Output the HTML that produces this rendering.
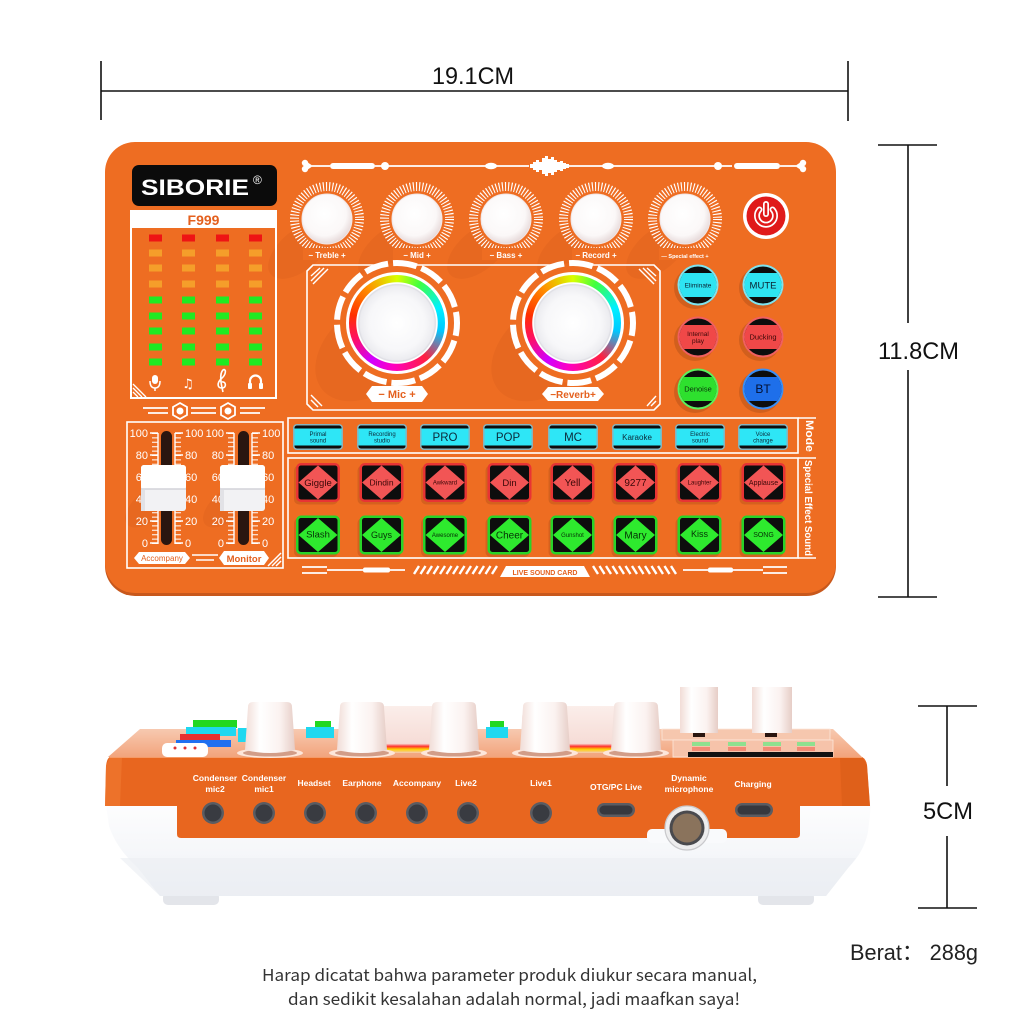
<!DOCTYPE html>
<html><head><meta charset="utf-8">
<style>
html,body{margin:0;padding:0;background:#fff;}
#c{position:relative;width:1024px;height:1024px;overflow:hidden;background:#fff;}
#c svg{position:absolute;left:0;top:0;}
.rb{position:absolute;border-radius:50%;box-sizing:border-box;border:3px solid #fff;
background:radial-gradient(circle at 50% 50%, #ffffff 0px, #f7f7f9 28px, #ececf0 37px, #dcdce2 38.5px, #ffffff 39.5px, #ffffff 40.5px, rgba(255,255,255,0) 41px),
conic-gradient(from 0deg, #d8ff00, #40ff40 30deg, #00f0ff 70deg, #00c8ff 100deg, #ff2040 140deg, #ff00c0 185deg, #d000ff 215deg, #ff1060 250deg, #ff3000 280deg, #ff9000 320deg, #d8ff00);}
</style></head><body><div id="c">
<svg width="1024" height="1024" viewBox="0 0 1024 1024" font-family="'Liberation Sans', Arial, sans-serif">
<defs>
<radialGradient id="kg" cx="45%" cy="40%" r="62%"><stop offset="0" stop-color="#ffffff"/><stop offset="0.7" stop-color="#fbf8f8"/><stop offset="1" stop-color="#e4d6d6"/></radialGradient>
<linearGradient id="top" x1="0" y1="0" x2="0" y2="1"><stop offset="0" stop-color="#F7C9B0"/><stop offset="1" stop-color="#F2A47C"/></linearGradient>
<linearGradient id="base" x1="0" y1="0" x2="0" y2="1"><stop offset="0" stop-color="#fdfdfe"/><stop offset="0.6" stop-color="#f4f6f9"/><stop offset="1" stop-color="#e8ebf0"/></linearGradient>
<linearGradient id="cyl" x1="0" y1="0" x2="1" y2="0"><stop offset="0" stop-color="#f1dcd6"/><stop offset="0.3" stop-color="#ffffff"/><stop offset="0.7" stop-color="#fbf2f0"/><stop offset="1" stop-color="#e6cdc6"/></linearGradient>
<linearGradient id="drum" x1="0" y1="0" x2="0" y2="1"><stop offset="0" stop-color="#fbeeea"/><stop offset="0.8" stop-color="#f6dcd6"/><stop offset="0.86" stop-color="#ff3030"/><stop offset="0.92" stop-color="#ffd000"/><stop offset="1" stop-color="#f3c8b8"/></linearGradient>
</defs>

<!-- ===== dimension lines ===== -->
<g stroke="#111" stroke-width="1.6">
<line x1="101" y1="91" x2="848" y2="91"/>
<line x1="101" y1="61" x2="101" y2="120"/>
<line x1="848" y1="61" x2="848" y2="121"/>
<line x1="878" y1="145" x2="937" y2="145"/>
<line x1="878" y1="597" x2="937" y2="597"/>
<line x1="908" y1="145" x2="908" y2="323"/>
<line x1="908" y1="370" x2="908" y2="597"/>
<line x1="918" y1="706" x2="977" y2="706"/>
<line x1="918" y1="908" x2="977" y2="908"/>
<line x1="947" y1="706" x2="947" y2="786"/>
<line x1="947" y1="836" x2="947" y2="908"/>
</g>
<g fill="#111" font-size="24">
<text x="432" y="84" textLength="82" lengthAdjust="spacingAndGlyphs">19.1CM</text>
<text x="878" y="359" textLength="81" lengthAdjust="spacingAndGlyphs">11.8CM</text>
<text x="923" y="819" textLength="50" lengthAdjust="spacingAndGlyphs">5CM</text>
</g>

<!-- ===== TOP VIEW BOARD ===== -->
<rect x="105" y="146" width="731" height="450" rx="30" fill="#C8581C"/>
<rect x="105" y="142" width="731" height="451" rx="30" fill="#EE6D22"/>

<!-- shadows -->
<g fill="#7a2a00" opacity="0.06">
<ellipse cx="300" cy="250" rx="38" ry="20" transform="rotate(-40 300 250)"/>
<ellipse cx="390" cy="250" rx="38" ry="20" transform="rotate(-40 390 250)"/>
<ellipse cx="479" cy="250" rx="38" ry="20" transform="rotate(-40 479 250)"/>
<ellipse cx="569" cy="250" rx="38" ry="20" transform="rotate(-40 569 250)"/>
<ellipse cx="658" cy="250" rx="38" ry="20" transform="rotate(-40 658 250)"/>
<ellipse cx="370" cy="350" rx="62" ry="42" transform="rotate(-40 370 350)"/>
<ellipse cx="546" cy="350" rx="62" ry="42" transform="rotate(-40 546 350)"/>
<ellipse cx="150" cy="505" rx="30" ry="15" transform="rotate(-40 150 505)"/>
<ellipse cx="228" cy="505" rx="30" ry="15" transform="rotate(-40 228 505)"/>
</g>

<!-- logo -->
<rect x="132" y="165" width="145" height="41" rx="7" fill="#0b0b0b"/>
<text x="141" y="195" font-size="22" font-weight="bold" fill="#fff" textLength="108" lengthAdjust="spacingAndGlyphs">SIBORIE</text>
<text x="253" y="184" font-size="12" fill="#fff">®</text>

<!-- F999 panel -->
<rect x="131" y="211" width="145" height="187" fill="none" stroke="#fff" stroke-width="2"/>
<rect x="131" y="211" width="145" height="17" fill="#fff"/>
<text x="203.5" y="225" font-size="14" font-weight="bold" fill="#E4601E" text-anchor="middle">F999</text>
<g>
<g fill="#EE1414"><rect x="149" y="234.5" width="13" height="7"/><rect x="182" y="234.5" width="13" height="7"/><rect x="216" y="234.5" width="13" height="7"/><rect x="249" y="234.5" width="13" height="7"/></g>
<g fill="#F59E2A">
<rect x="149" y="249.5" width="13" height="7"/><rect x="182" y="249.5" width="13" height="7"/><rect x="216" y="249.5" width="13" height="7"/><rect x="249" y="249.5" width="13" height="7"/>
<rect x="149" y="264.5" width="13" height="7"/><rect x="182" y="264.5" width="13" height="7"/><rect x="216" y="264.5" width="13" height="7"/><rect x="249" y="264.5" width="13" height="7"/>
<rect x="149" y="280.5" width="13" height="7"/><rect x="182" y="280.5" width="13" height="7"/><rect x="216" y="280.5" width="13" height="7"/><rect x="249" y="280.5" width="13" height="7"/>
</g>
<g fill="#1FEA22">
<rect x="149" y="296.5" width="13" height="7"/><rect x="182" y="296.5" width="13" height="7"/><rect x="216" y="296.5" width="13" height="7"/><rect x="249" y="296.5" width="13" height="7"/>
<rect x="149" y="312.5" width="13" height="7"/><rect x="182" y="312.5" width="13" height="7"/><rect x="216" y="312.5" width="13" height="7"/><rect x="249" y="312.5" width="13" height="7"/>
<rect x="149" y="327.5" width="13" height="7"/><rect x="182" y="327.5" width="13" height="7"/><rect x="216" y="327.5" width="13" height="7"/><rect x="249" y="327.5" width="13" height="7"/>
<rect x="149" y="343.5" width="13" height="7"/><rect x="182" y="343.5" width="13" height="7"/><rect x="216" y="343.5" width="13" height="7"/><rect x="249" y="343.5" width="13" height="7"/>
<rect x="149" y="358.5" width="13" height="7"/><rect x="182" y="358.5" width="13" height="7"/><rect x="216" y="358.5" width="13" height="7"/><rect x="249" y="358.5" width="13" height="7"/>
</g>
</g>
<!-- icons -->
<g fill="#fff" stroke="#fff">
<rect x="152" y="375" width="6" height="9" rx="3" stroke="none"/>
<path d="M150,381 Q150,388 155,388 Q160,388 160,381" fill="none" stroke-width="1.5"/>
<line x1="155" y1="388" x2="155" y2="391" stroke-width="1.5"/>
<text x="188" y="388" font-size="13" text-anchor="middle" stroke="none" font-family="'DejaVu Sans', sans-serif">♫</text>
<path d="M223,392 C221,384 219,374 223,370 C226,368 227,374 221,379 C217,383 217,388 222,388 C227,388 226,381 222,382" fill="none" stroke-width="1.6"/>
<path d="M250,387 L250,381 A5.5,5.5 0 0 1 261,381 L261,387" fill="none" stroke-width="2.2"/>
<rect x="248" y="383" width="4" height="6" rx="1" stroke="none"/><rect x="259" y="383" width="4" height="6" rx="1" stroke="none"/>
</g>
<g stroke="#fff" stroke-width="1.3"><line x1="133" y1="392" x2="138" y2="397"/><line x1="133" y1="388" x2="142" y2="397"/><line x1="133" y1="384" x2="146" y2="397"/></g>
<!-- hex deco -->
<g stroke="#fff" stroke-width="1.8" fill="none">
<line x1="143" y1="408" x2="168" y2="408"/><line x1="148" y1="413" x2="168" y2="413"/>
<polygon points="180,403 187,407 187,415 180,419 173,415 173,407"/>
<line x1="191" y1="408" x2="216" y2="408"/><line x1="191" y1="413" x2="216" y2="413"/>
<polygon points="228,403 235,407 235,415 228,419 221,415 221,407"/>
<line x1="240" y1="408" x2="265" y2="408"/><line x1="240" y1="413" x2="260" y2="413"/>
</g>
<circle cx="180" cy="411" r="3.5" fill="#fff"/><circle cx="228" cy="411" r="3.5" fill="#fff"/>

<!-- top deco line -->
<g fill="#fff">
<path d="M312,166 L330,166 M375,166 L487,166 M496,166 L529,166 M569,166 L603,166 M613,166 L732,166 M780,166 L796,166" stroke="#fff" stroke-width="1.8"/>
<circle cx="305" cy="163" r="3.2"/><circle cx="305" cy="169" r="3.2"/><polygon points="304,160 313,166 304,172"/>
<circle cx="803" cy="163" r="3.2"/><circle cx="803" cy="169" r="3.2"/><polygon points="804,160 795,166 804,172"/>
<rect x="330" y="163" width="45" height="6" rx="3"/><rect x="734" y="163" width="46" height="6" rx="3"/>
<circle cx="385" cy="166" r="4"/><circle cx="718" cy="166" r="4"/>
<ellipse cx="491" cy="166" rx="6" ry="3.2"/><ellipse cx="608" cy="166" rx="6" ry="3.2"/>
<rect x="530" y="164" width="3" height="4"/><rect x="533" y="162" width="3" height="8"/><rect x="536" y="160" width="3" height="12"/><rect x="539" y="162" width="3" height="8"/><rect x="542" y="158" width="3" height="16"/><rect x="545" y="156" width="3" height="20"/><rect x="548" y="159" width="3" height="14"/><rect x="551" y="157" width="3" height="18"/><rect x="554" y="160" width="3" height="12"/><rect x="557" y="162" width="3" height="8"/><rect x="560" y="161" width="3" height="10"/><rect x="563" y="163" width="3" height="6"/><rect x="566" y="164" width="3" height="4"/>
</g>

<!-- small knobs -->
<g>
<g transform="translate(327,219)"><circle r="32.5" fill="none" stroke="#fff" stroke-width="9" stroke-dasharray="1.1 2"/><circle r="27.5" fill="#EE6D22"/><circle r="25" fill="url(#kg)" stroke="#f1e6e6" stroke-width="1"/><rect x="-24" y="29" width="48" height="12" fill="#EE6D22"/></g>
<g transform="translate(417,219)"><circle r="32.5" fill="none" stroke="#fff" stroke-width="9" stroke-dasharray="1.1 2"/><circle r="27.5" fill="#EE6D22"/><circle r="25" fill="url(#kg)" stroke="#f1e6e6" stroke-width="1"/><rect x="-24" y="29" width="48" height="12" fill="#EE6D22"/></g>
<g transform="translate(506,219)"><circle r="32.5" fill="none" stroke="#fff" stroke-width="9" stroke-dasharray="1.1 2"/><circle r="27.5" fill="#EE6D22"/><circle r="25" fill="url(#kg)" stroke="#f1e6e6" stroke-width="1"/><rect x="-24" y="29" width="48" height="12" fill="#EE6D22"/></g>
<g transform="translate(596,219)"><circle r="32.5" fill="none" stroke="#fff" stroke-width="9" stroke-dasharray="1.1 2"/><circle r="27.5" fill="#EE6D22"/><circle r="25" fill="url(#kg)" stroke="#f1e6e6" stroke-width="1"/><rect x="-24" y="29" width="48" height="12" fill="#EE6D22"/></g>
<g transform="translate(685,219)"><circle r="32.5" fill="none" stroke="#fff" stroke-width="9" stroke-dasharray="1.1 2"/><circle r="27.5" fill="#EE6D22"/><circle r="25" fill="url(#kg)" stroke="#f1e6e6" stroke-width="1"/><rect x="-26" y="29" width="52" height="12" fill="#EE6D22"/></g>
</g>
<g fill="#fff" font-size="8" font-weight="bold" text-anchor="middle">
<text x="327" y="258">− Treble +</text>
<text x="417" y="258">− Mid +</text>
<text x="506" y="258">− Bass +</text>
<text x="596" y="258">− Record +</text>
<text x="685" y="258" font-size="5.5">— Special effect +</text>
</g>

<!-- power -->
<circle cx="766" cy="216" r="23" fill="#fff"/>
<circle cx="766" cy="216" r="19.5" fill="#E01A1A"/>
<path d="M759.5,209.5 A9,9 0 1 0 772.5,209.5" stroke="#fff" stroke-width="6" fill="none" stroke-linecap="round"/>
<line x1="766" y1="204" x2="766" y2="214" stroke="#fff" stroke-width="6" stroke-linecap="round"/>
<path d="M759.5,209.5 A9,9 0 1 0 772.5,209.5" stroke="#E01A1A" stroke-width="2.6" fill="none" stroke-linecap="round"/>
<line x1="766" y1="204" x2="766" y2="214" stroke="#E01A1A" stroke-width="2.6" stroke-linecap="round"/>

<!-- big knob frame -->
<path d="M313,265 L654,265 L660,271 L660,404 L654,410 L313,410 L307,404 L307,271 Z" fill="none" stroke="#fff" stroke-width="1.6"/>
<g stroke="#fff" stroke-width="1.4">
<line x1="311" y1="276" x2="320" y2="268"/><line x1="311" y1="281" x2="324" y2="268"/><line x1="313" y1="284" x2="328" y2="269"/>
<line x1="311" y1="400" x2="318" y2="407"/><line x1="311" y1="395" x2="322" y2="406"/>
<line x1="656" y1="276" x2="647" y2="268"/><line x1="656" y1="281" x2="643" y2="268"/><line x1="654" y1="284" x2="639" y2="269"/>
<line x1="656" y1="396" x2="647" y2="406"/><line x1="656" y1="401" x2="651" y2="406"/>
</g>
<circle cx="397" cy="323" r="60" fill="#EE6D22" stroke="#fff" stroke-width="6" stroke-dasharray="24 5" transform="rotate(100 397 323)"/>
<circle cx="573" cy="323" r="60" fill="#EE6D22" stroke="#fff" stroke-width="6" stroke-dasharray="24 5" transform="rotate(100 573 323)"/>
<polygon points="366,394 372,386 422,386 428,394 422,402 372,402" fill="#fff"/>
<text x="397" y="398" font-size="11" fill="#E4601E" text-anchor="middle" font-weight="bold">− Mic +</text>
<polygon points="542,394 548,387 598,387 604,394 598,401 548,401" fill="#fff"/>
<text x="573" y="398" font-size="10" fill="#E4601E" text-anchor="middle" font-weight="bold">−Reverb+</text>

<!-- round buttons -->
<g font-size="6.5" text-anchor="middle" fill="#0b2030">
<g transform="translate(698,285)"><circle cx="-3" cy="3" r="21" fill="#000" opacity="0.12"/><circle r="20.5" fill="#7FE3EE"/><circle r="18.5" fill="#0d0d0d"/><path d="M-14.1,-12 L14.1,-12 A18.5,18.5 0 0 1 14.1,12 L-14.1,12 A18.5,18.5 0 0 1 -14.1,-12 Z" fill="#2EE4F2"/><text y="2.3">Eliminate</text></g>
<g transform="translate(763,285)"><circle cx="-3" cy="3" r="21" fill="#000" opacity="0.12"/><circle r="20.5" fill="#7FE3EE"/><circle r="18.5" fill="#0d0d0d"/><path d="M-14.1,-12 L14.1,-12 A18.5,18.5 0 0 1 14.1,12 L-14.1,12 A18.5,18.5 0 0 1 -14.1,-12 Z" fill="#2EE4F2"/><text y="3.5" font-size="9.5">MUTE</text></g>
<g transform="translate(698,337)"><circle cx="-3" cy="3" r="21" fill="#000" opacity="0.12"/><circle r="20.5" fill="#F06060"/><circle r="18.5" fill="#0d0d0d"/><path d="M-14.1,-12 L14.1,-12 A18.5,18.5 0 0 1 14.1,12 L-14.1,12 A18.5,18.5 0 0 1 -14.1,-12 Z" fill="#F04848"/><text y="-1" fill="#3a0808">Internal</text><text y="6" fill="#3a0808">play</text></g>
<g transform="translate(763,337)"><circle cx="-3" cy="3" r="21" fill="#000" opacity="0.12"/><circle r="20.5" fill="#F06060"/><circle r="18.5" fill="#0d0d0d"/><path d="M-14.1,-12 L14.1,-12 A18.5,18.5 0 0 1 14.1,12 L-14.1,12 A18.5,18.5 0 0 1 -14.1,-12 Z" fill="#F04848"/><text y="2.5" font-size="7.5" fill="#3a0808">Ducking</text></g>
<g transform="translate(698,389)"><circle cx="-3" cy="3" r="21" fill="#000" opacity="0.12"/><circle r="20.5" fill="#5CF05C"/><circle r="18.5" fill="#0d0d0d"/><path d="M-14.1,-12 L14.1,-12 A18.5,18.5 0 0 1 14.1,12 L-14.1,12 A18.5,18.5 0 0 1 -14.1,-12 Z" fill="#2EE02E"/><text y="2.5" font-size="7.5" fill="#0a300a">Denoise</text></g>
<g transform="translate(763,389)"><circle cx="-3" cy="3" r="21" fill="#000" opacity="0.12"/><circle r="20.5" fill="#3A8EF5"/><circle r="18.5" fill="#0d0d0d"/><path d="M-14.1,-12 L14.1,-12 A18.5,18.5 0 0 1 14.1,12 L-14.1,12 A18.5,18.5 0 0 1 -14.1,-12 Z" fill="#1E6FEA"/><text y="4" font-size="12" fill="#041030">BT</text></g>
</g>

<!-- fader section -->
<rect x="127" y="422" width="156" height="146" fill="none" stroke="#fff" stroke-width="1.6"/>
<g fill="#fff" font-size="11">
<g text-anchor="end"><text x="148" y="437">100</text><text x="148" y="459">80</text><text x="148" y="481">60</text><text x="148" y="503">40</text><text x="148" y="525">20</text><text x="148" y="547">0</text>
<text x="224" y="437">100</text><text x="224" y="459">80</text><text x="224" y="481">60</text><text x="224" y="503">40</text><text x="224" y="525">20</text><text x="224" y="547">0</text></g>
<text x="185" y="437">100</text><text x="185" y="459">80</text><text x="185" y="481">60</text><text x="185" y="503">40</text><text x="185" y="525">20</text><text x="185" y="547">0</text>
<text x="262" y="437">100</text><text x="262" y="459">80</text><text x="262" y="481">60</text><text x="262" y="503">40</text><text x="262" y="525">20</text><text x="262" y="547">0</text>
</g>
<g stroke="#fff">
<line x1="155" y1="433" x2="155" y2="544" stroke-width="6" stroke-dasharray="1 3.4"/><line x1="158" y1="433" x2="158" y2="544" stroke-width="1.4"/>
<line x1="178" y1="433" x2="178" y2="544" stroke-width="6" stroke-dasharray="1 3.4"/><line x1="175" y1="433" x2="175" y2="544" stroke-width="1.4"/>
<line x1="231" y1="433" x2="231" y2="544" stroke-width="6" stroke-dasharray="1 3.4"/><line x1="234" y1="433" x2="234" y2="544" stroke-width="1.4"/>
<line x1="255" y1="433" x2="255" y2="544" stroke-width="6" stroke-dasharray="1 3.4"/><line x1="252" y1="433" x2="252" y2="544" stroke-width="1.4"/>
<g stroke-width="1.4"><path d="M150,433h8M150,455h8M150,477h8M150,499h8M150,521h8M150,543h8M175,433h8M175,455h8M175,477h8M175,499h8M175,521h8M175,543h8M226,433h8M226,455h8M226,477h8M226,499h8M226,521h8M226,543h8M252,433h8M252,455h8M252,477h8M252,499h8M252,521h8M252,543h8"/></g>
</g>
<rect x="161" y="431" width="11" height="114" rx="5.5" fill="#2a1610"/>
<rect x="238" y="431" width="11" height="114" rx="5.5" fill="#2a1610"/>
<g>
<rect x="141" y="465" width="45" height="46" rx="3" fill="#f2f2f4"/><rect x="141" y="465" width="45" height="24" rx="3" fill="#fff"/><line x1="141" y1="489" x2="186" y2="489" stroke="#d2d2d8" stroke-width="1.5"/><rect x="141" y="490" width="4" height="21" fill="#e2e2e6"/>
<rect x="220" y="465" width="45" height="46" rx="3" fill="#f2f2f4"/><rect x="220" y="465" width="45" height="24" rx="3" fill="#fff"/><line x1="220" y1="489" x2="265" y2="489" stroke="#d2d2d8" stroke-width="1.5"/><rect x="220" y="490" width="4" height="21" fill="#e2e2e6"/>
</g>
<polygon points="134,558 139,552 185,552 190,558 185,564 139,564" fill="#fff"/>
<text x="162" y="561" font-size="8" fill="#E4601E" text-anchor="middle">Accompany</text>
<polygon points="219,558 224,551 264,551 269,558 264,565 224,565" fill="#fff"/>
<text x="244" y="562" font-size="9.5" fill="#E4601E" text-anchor="middle" font-weight="bold">Monitor</text>
<g stroke="#fff" stroke-width="1.5"><line x1="192" y1="555" x2="218" y2="555"/><line x1="196" y1="560" x2="214" y2="560"/>
<line x1="272" y1="566" x2="281" y2="557"/><line x1="276" y1="566" x2="281" y2="561"/><line x1="268" y1="566" x2="281" y2="553"/></g>

<!-- mode frame -->
<rect x="288" y="418" width="510" height="35" fill="none" stroke="#fff" stroke-width="1.6"/>
<line x1="798" y1="418" x2="816" y2="418" stroke="#fff" stroke-width="1.6"/>
<text transform="translate(806,420) rotate(90)" font-size="11" font-weight="bold" fill="#fff" textLength="32" lengthAdjust="spacingAndGlyphs">Mode</text>
<g text-anchor="middle" fill="#0b2a3a">
<g transform="translate(318,437)"><rect x="-25" y="-13" width="50" height="26" rx="4" fill="#86B4BE"/><rect x="-23.5" y="-11.5" width="47" height="23" rx="2.5" fill="#0d0d0d"/><rect x="-23.5" y="-8.5" width="47" height="17" fill="#2EE6F6"/><text y="-1" font-size="6">Primal</text><text y="5.5" font-size="6">sound</text></g>
<g transform="translate(382,437)"><rect x="-25" y="-13" width="50" height="26" rx="4" fill="#86B4BE"/><rect x="-23.5" y="-11.5" width="47" height="23" rx="2.5" fill="#0d0d0d"/><rect x="-23.5" y="-8.5" width="47" height="17" fill="#2EE6F6"/><text y="-1" font-size="6">Recording</text><text y="5.5" font-size="6">studio</text></g>
<g transform="translate(445,437)"><rect x="-25" y="-13" width="50" height="26" rx="4" fill="#86B4BE"/><rect x="-23.5" y="-11.5" width="47" height="23" rx="2.5" fill="#0d0d0d"/><rect x="-23.5" y="-8.5" width="47" height="17" fill="#2EE6F6"/><text y="4" font-size="11.5">PRO</text></g>
<g transform="translate(508,437)"><rect x="-25" y="-13" width="50" height="26" rx="4" fill="#86B4BE"/><rect x="-23.5" y="-11.5" width="47" height="23" rx="2.5" fill="#0d0d0d"/><rect x="-23.5" y="-8.5" width="47" height="17" fill="#2EE6F6"/><text y="4" font-size="11.5">POP</text></g>
<g transform="translate(573,437)"><rect x="-25" y="-13" width="50" height="26" rx="4" fill="#86B4BE"/><rect x="-23.5" y="-11.5" width="47" height="23" rx="2.5" fill="#0d0d0d"/><rect x="-23.5" y="-8.5" width="47" height="17" fill="#2EE6F6"/><text y="4" font-size="11.5">MC</text></g>
<g transform="translate(637,437)"><rect x="-25" y="-13" width="50" height="26" rx="4" fill="#86B4BE"/><rect x="-23.5" y="-11.5" width="47" height="23" rx="2.5" fill="#0d0d0d"/><rect x="-23.5" y="-8.5" width="47" height="17" fill="#2EE6F6"/><text y="3" font-size="8">Karaoke</text></g>
<g transform="translate(700,437)"><rect x="-25" y="-13" width="50" height="26" rx="4" fill="#86B4BE"/><rect x="-23.5" y="-11.5" width="47" height="23" rx="2.5" fill="#0d0d0d"/><rect x="-23.5" y="-8.5" width="47" height="17" fill="#2EE6F6"/><text y="-1" font-size="6">Electric</text><text y="5.5" font-size="6">sound</text></g>
<g transform="translate(763,437)"><rect x="-25" y="-13" width="50" height="26" rx="4" fill="#86B4BE"/><rect x="-23.5" y="-11.5" width="47" height="23" rx="2.5" fill="#0d0d0d"/><rect x="-23.5" y="-8.5" width="47" height="17" fill="#2EE6F6"/><text y="-1" font-size="6">Voice</text><text y="5.5" font-size="6">change</text></g>
</g>

<!-- effects frame -->
<rect x="288" y="458" width="510" height="100" fill="none" stroke="#fff" stroke-width="1.6"/>
<line x1="798" y1="458" x2="816" y2="458" stroke="#fff" stroke-width="1.6"/>
<line x1="798" y1="558" x2="816" y2="558" stroke="#fff" stroke-width="1.6"/>
<text transform="translate(805,460) rotate(90)" font-size="10" font-weight="bold" fill="#fff" textLength="96" lengthAdjust="spacingAndGlyphs">Special Effect Sound</text>
<g text-anchor="middle" fill="#3a0808">
<g transform="translate(318,482.5)"><rect x="-24" y="-17" width="44" height="39" rx="5" fill="#000" opacity="0.1"/><rect x="-22" y="-19.5" width="44" height="39" rx="5" fill="#E83434"/><rect x="-19.5" y="-17" width="39" height="34" rx="2.5" fill="#0d0d0d"/><polygon points="0,-17 19.5,0 0,17 -19.5,0" fill="#F25555"/><text y="3.5" font-size="9.5">Giggle</text></g>
<g transform="translate(381.5,482.5)"><rect x="-24" y="-17" width="44" height="39" rx="5" fill="#000" opacity="0.1"/><rect x="-22" y="-19.5" width="44" height="39" rx="5" fill="#E83434"/><rect x="-19.5" y="-17" width="39" height="34" rx="2.5" fill="#0d0d0d"/><polygon points="0,-17 19.5,0 0,17 -19.5,0" fill="#F25555"/><text y="3" font-size="8.5">Dindin</text></g>
<g transform="translate(445,482.5)"><rect x="-24" y="-17" width="44" height="39" rx="5" fill="#000" opacity="0.1"/><rect x="-22" y="-19.5" width="44" height="39" rx="5" fill="#E83434"/><rect x="-19.5" y="-17" width="39" height="34" rx="2.5" fill="#0d0d0d"/><polygon points="0,-17 19.5,0 0,17 -19.5,0" fill="#F25555"/><text y="2" font-size="6">Awkward</text></g>
<g transform="translate(509.5,482.5)"><rect x="-24" y="-17" width="44" height="39" rx="5" fill="#000" opacity="0.1"/><rect x="-22" y="-19.5" width="44" height="39" rx="5" fill="#E83434"/><rect x="-19.5" y="-17" width="39" height="34" rx="2.5" fill="#0d0d0d"/><polygon points="0,-17 19.5,0 0,17 -19.5,0" fill="#F25555"/><text y="3.5" font-size="9.5">Din</text></g>
<g transform="translate(572.5,482.5)"><rect x="-24" y="-17" width="44" height="39" rx="5" fill="#000" opacity="0.1"/><rect x="-22" y="-19.5" width="44" height="39" rx="5" fill="#E83434"/><rect x="-19.5" y="-17" width="39" height="34" rx="2.5" fill="#0d0d0d"/><polygon points="0,-17 19.5,0 0,17 -19.5,0" fill="#F25555"/><text y="3.5" font-size="10">Yell</text></g>
<g transform="translate(635.5,482.5)"><rect x="-24" y="-17" width="44" height="39" rx="5" fill="#000" opacity="0.1"/><rect x="-22" y="-19.5" width="44" height="39" rx="5" fill="#E83434"/><rect x="-19.5" y="-17" width="39" height="34" rx="2.5" fill="#0d0d0d"/><polygon points="0,-17 19.5,0 0,17 -19.5,0" fill="#F25555"/><text y="3.5" font-size="10">9277</text></g>
<g transform="translate(699.5,482.5)"><rect x="-24" y="-17" width="44" height="39" rx="5" fill="#000" opacity="0.1"/><rect x="-22" y="-19.5" width="44" height="39" rx="5" fill="#E83434"/><rect x="-19.5" y="-17" width="39" height="34" rx="2.5" fill="#0d0d0d"/><polygon points="0,-17 19.5,0 0,17 -19.5,0" fill="#F25555"/><text y="2" font-size="6">Laughter</text></g>
<g transform="translate(763.5,482.5)"><rect x="-24" y="-17" width="44" height="39" rx="5" fill="#000" opacity="0.1"/><rect x="-22" y="-19.5" width="44" height="39" rx="5" fill="#E83434"/><rect x="-19.5" y="-17" width="39" height="34" rx="2.5" fill="#0d0d0d"/><polygon points="0,-17 19.5,0 0,17 -19.5,0" fill="#F25555"/><text y="2.5" font-size="7">Applause</text></g>
</g>
<g text-anchor="middle" fill="#063006">
<g transform="translate(318,535)"><rect x="-24" y="-17" width="44" height="39" rx="5" fill="#000" opacity="0.1"/><rect x="-22" y="-19.5" width="44" height="39" rx="5" fill="#28D428"/><rect x="-19.5" y="-17" width="39" height="34" rx="2.5" fill="#0d0d0d"/><polygon points="0,-17 19.5,0 0,17 -19.5,0" fill="#2EEA2E"/><text y="2.5" font-size="9.5">Slash</text></g>
<g transform="translate(381.5,535)"><rect x="-24" y="-17" width="44" height="39" rx="5" fill="#000" opacity="0.1"/><rect x="-22" y="-19.5" width="44" height="39" rx="5" fill="#28D428"/><rect x="-19.5" y="-17" width="39" height="34" rx="2.5" fill="#0d0d0d"/><polygon points="0,-17 19.5,0 0,17 -19.5,0" fill="#2EEA2E"/><text y="3" font-size="9">Guys</text></g>
<g transform="translate(445,535)"><rect x="-24" y="-17" width="44" height="39" rx="5" fill="#000" opacity="0.1"/><rect x="-22" y="-19.5" width="44" height="39" rx="5" fill="#28D428"/><rect x="-19.5" y="-17" width="39" height="34" rx="2.5" fill="#0d0d0d"/><polygon points="0,-17 19.5,0 0,17 -19.5,0" fill="#2EEA2E"/><text y="2" font-size="6">Awesome</text></g>
<g transform="translate(509.5,535)"><rect x="-24" y="-17" width="44" height="39" rx="5" fill="#000" opacity="0.1"/><rect x="-22" y="-19.5" width="44" height="39" rx="5" fill="#28D428"/><rect x="-19.5" y="-17" width="39" height="34" rx="2.5" fill="#0d0d0d"/><polygon points="0,-17 19.5,0 0,17 -19.5,0" fill="#2EEA2E"/><text y="3.5" font-size="10">Cheer</text></g>
<g transform="translate(572.5,535)"><rect x="-24" y="-17" width="44" height="39" rx="5" fill="#000" opacity="0.1"/><rect x="-22" y="-19.5" width="44" height="39" rx="5" fill="#28D428"/><rect x="-19.5" y="-17" width="39" height="34" rx="2.5" fill="#0d0d0d"/><polygon points="0,-17 19.5,0 0,17 -19.5,0" fill="#2EEA2E"/><text y="2" font-size="6">Gunshot</text></g>
<g transform="translate(635.5,535)"><rect x="-24" y="-17" width="44" height="39" rx="5" fill="#000" opacity="0.1"/><rect x="-22" y="-19.5" width="44" height="39" rx="5" fill="#28D428"/><rect x="-19.5" y="-17" width="39" height="34" rx="2.5" fill="#0d0d0d"/><polygon points="0,-17 19.5,0 0,17 -19.5,0" fill="#2EEA2E"/><text y="3.5" font-size="10">Mary</text></g>
<g transform="translate(699.5,535)"><rect x="-24" y="-17" width="44" height="39" rx="5" fill="#000" opacity="0.1"/><rect x="-22" y="-19.5" width="44" height="39" rx="5" fill="#28D428"/><rect x="-19.5" y="-17" width="39" height="34" rx="2.5" fill="#0d0d0d"/><polygon points="0,-17 19.5,0 0,17 -19.5,0" fill="#2EEA2E"/><text y="2" font-size="9">Kiss</text></g>
<g transform="translate(763.5,535)"><rect x="-24" y="-17" width="44" height="39" rx="5" fill="#000" opacity="0.1"/><rect x="-22" y="-19.5" width="44" height="39" rx="5" fill="#28D428"/><rect x="-19.5" y="-17" width="39" height="34" rx="2.5" fill="#0d0d0d"/><polygon points="0,-17 19.5,0 0,17 -19.5,0" fill="#2EEA2E"/><text y="2" font-size="7">SONG</text></g>
</g>

<!-- bottom deco -->
<g stroke="#fff" stroke-width="1.8">
<line x1="302" y1="567" x2="327" y2="567"/><line x1="302" y1="573" x2="327" y2="573"/>
<line x1="327" y1="570" x2="405" y2="570"/>
<line x1="763" y1="567" x2="787" y2="567"/><line x1="763" y1="573" x2="787" y2="573"/>
<line x1="683" y1="570" x2="763" y2="570"/>
</g>
<rect x="363" y="567.5" width="27" height="5" rx="2" fill="#fff"/>
<rect x="708" y="567.5" width="25" height="5" rx="2" fill="#fff"/>
<path d="M414,574 L419,566 M420.5,574 L425.5,566 M427,574 L432,566 M433.5,574 L438.5,566 M440,574 L445,566 M446.5,574 L451.5,566 M453,574 L458,566 M459.5,574 L464.5,566 M466,574 L471,566 M472.5,574 L477.5,566 M479,574 L484,566 M485.5,574 L490.5,566 M492,574 L497,566" stroke="#fff" stroke-width="2.4"/>
<path d="M593,566 L598,574 M599.5,566 L604.5,574 M606,566 L611,574 M612.5,566 L617.5,574 M619,566 L624,574 M625.5,566 L630.5,574 M632,566 L637,574 M638.5,566 L643.5,574 M645,566 L650,574 M651.5,566 L656.5,574 M658,566 L663,574 M664.5,566 L669.5,574 M671,566 L676,574" stroke="#fff" stroke-width="2.4"/>
<polygon points="500,577 506,566 584,566 590,577" fill="#fff"/>
<text x="545" y="575" font-size="7" font-weight="bold" fill="#E4601E" text-anchor="middle">LIVE SOUND CARD</text>

<!-- ===== SIDE VIEW ===== -->
<rect x="163" y="892" width="56" height="13" rx="5" fill="#e3e5ea"/>
<rect x="758" y="892" width="56" height="13" rx="5" fill="#e3e5ea"/>
<path d="M106,805 L871,805 L868,832 Q864,852 848,868 L826,896 L160,896 L138,868 Q116,848 109,826 Z" fill="url(#base)"/>
<path d="M120,858 L856,858 L826,896 L160,896 Z" fill="#eceff3" opacity="0.7"/>
<!-- top surface -->
<polygon points="140,729 833,729 862,757 108,757" fill="url(#top)"/>
<!-- orange body -->
<path d="M110,757 L862,757 Q866,759 867,765 L870,806 L800,806 L800,834 Q800,838 796,838 L181,838 Q177,838 177,834 L177,806 L105,806 L106,766 Q107,758 110,757 Z" fill="#E8661F"/>
<polygon points="840,757 862,757 867,765 870,806 842,806" fill="#D85C18" opacity="0.6"/>
<polygon points="106,766 110,757 122,757 120,806 105,806" fill="#F07A32" opacity="0.6"/>
<line x1="110" y1="757.5" x2="862" y2="757.5" stroke="#F59A66" stroke-width="1"/>
<rect x="647" y="829" width="80" height="14" rx="5" fill="#f9fafc"/>

<!-- top items -->
<g>
<rect x="193" y="720" width="44" height="8" fill="#22D822"/>
<rect x="186" y="727" width="50" height="9" fill="#1FD8F0"/>
<rect x="180" y="734" width="40" height="8" fill="#E83030"/>
<rect x="176" y="740" width="55" height="7" fill="#2070F0"/>
<rect x="238" y="728" width="12" height="14" fill="#1FD8F0"/>
<rect x="315" y="721" width="16" height="7" fill="#22D822"/>
<rect x="306" y="727" width="28" height="11" fill="#1FD8F0"/>
<rect x="403" y="721" width="14" height="7" fill="#22D822"/>
<rect x="395" y="727" width="22" height="11" fill="#1FD8F0"/>
<rect x="490" y="721" width="14" height="7" fill="#22D822"/>
<rect x="486" y="727" width="22" height="11" fill="#1FD8F0"/>
<rect x="162" y="743" width="46" height="14" rx="5" fill="#fff"/>
<circle cx="175" cy="748" r="1.5" fill="#e03030"/><circle cx="185" cy="748" r="1.5" fill="#e03030"/><circle cx="195" cy="748" r="1.5" fill="#e03030"/>
<!-- drums -->
<rect x="352" y="706" width="108" height="47" rx="12" fill="url(#drum)"/>
<rect x="522" y="706" width="108" height="47" rx="12" fill="url(#drum)"/>
<!-- right side sliders & LED panel -->
<rect x="662" y="729" width="168" height="11" fill="#f6c7ae" stroke="#fde6da" stroke-width="0.8"/>
<rect x="693" y="733" width="12" height="4" fill="#2a1610"/><rect x="765" y="733" width="12" height="4" fill="#2a1610"/>
<rect x="680" y="687" width="38" height="46" fill="url(#cyl)"/>
<rect x="752" y="687" width="40" height="46" fill="url(#cyl)"/>
<rect x="673" y="740" width="160" height="17" fill="#f6c3aa" stroke="#fde6da" stroke-width="0.8"/>
<g fill="#8fe08f"><rect x="692" y="742" width="18" height="4"/><rect x="728" y="742" width="18" height="4"/><rect x="763" y="742" width="18" height="4"/><rect x="797" y="742" width="18" height="4"/></g>
<g fill="#f28a74"><rect x="692" y="747" width="18" height="4"/><rect x="728" y="747" width="18" height="4"/><rect x="763" y="747" width="18" height="4"/><rect x="797" y="747" width="18" height="4"/></g>
<rect x="688" y="752" width="145" height="5" fill="#111"/>
</g>
<!-- knob cylinders -->
<g>
<g transform="translate(270,0)"><ellipse cx="0" cy="753" rx="33" ry="5" fill="#fde6da"/><ellipse cx="0" cy="753" rx="27" ry="3.5" fill="#a85436" opacity="0.5"/><path d="M-22,707 Q-22,702 -17,702 L17,702 Q22,702 22,707 L25,750 Q0,756 -25,750 Z" fill="url(#cyl)"/></g>
<g transform="translate(362,0)"><ellipse cx="0" cy="753" rx="33" ry="5" fill="#fde6da"/><ellipse cx="0" cy="753" rx="27" ry="3.5" fill="#a85436" opacity="0.5"/><path d="M-22,707 Q-22,702 -17,702 L17,702 Q22,702 22,707 L25,750 Q0,756 -25,750 Z" fill="url(#cyl)"/></g>
<g transform="translate(454,0)"><ellipse cx="0" cy="753" rx="33" ry="5" fill="#fde6da"/><ellipse cx="0" cy="753" rx="27" ry="3.5" fill="#a85436" opacity="0.5"/><path d="M-22,707 Q-22,702 -17,702 L17,702 Q22,702 22,707 L25,750 Q0,756 -25,750 Z" fill="url(#cyl)"/></g>
<g transform="translate(545,0)"><ellipse cx="0" cy="753" rx="33" ry="5" fill="#fde6da"/><ellipse cx="0" cy="753" rx="27" ry="3.5" fill="#a85436" opacity="0.5"/><path d="M-22,707 Q-22,702 -17,702 L17,702 Q22,702 22,707 L25,750 Q0,756 -25,750 Z" fill="url(#cyl)"/></g>
<g transform="translate(636,0)"><ellipse cx="0" cy="753" rx="33" ry="5" fill="#fde6da"/><ellipse cx="0" cy="753" rx="27" ry="3.5" fill="#a85436" opacity="0.5"/><path d="M-22,707 Q-22,702 -17,702 L17,702 Q22,702 22,707 L25,750 Q0,756 -25,750 Z" fill="url(#cyl)"/></g>
</g>

<!-- labels -->
<g fill="#fff" font-size="8.5" font-weight="bold" text-anchor="middle">
<text x="215" y="781">Condenser</text><text x="215" y="792">mic2</text>
<text x="264" y="781">Condenser</text><text x="264" y="792">mic1</text>
<text x="314" y="786">Headset</text>
<text x="362" y="786">Earphone</text>
<text x="417" y="786">Accompany</text>
<text x="466" y="786">Live2</text>
<text x="541" y="786">Live1</text>
<text x="616" y="790">OTG/PC Live</text>
<text x="689" y="781">Dynamic</text><text x="689" y="792">microphone</text>
<text x="753" y="787">Charging</text>
</g>
<!-- jacks -->
<g>
<g fill="#5a5c62"><circle cx="213" cy="813" r="11"/><circle cx="264" cy="813" r="11"/><circle cx="315" cy="813" r="11"/><circle cx="366" cy="813" r="11"/><circle cx="417" cy="813" r="11"/><circle cx="468" cy="813" r="11"/><circle cx="541" cy="813" r="11"/></g>
<g fill="#393b41"><circle cx="213" cy="813" r="8.5"/><circle cx="264" cy="813" r="8.5"/><circle cx="315" cy="813" r="8.5"/><circle cx="366" cy="813" r="8.5"/><circle cx="417" cy="813" r="8.5"/><circle cx="468" cy="813" r="8.5"/><circle cx="541" cy="813" r="8.5"/></g>
<rect x="597" y="803" width="38" height="14" rx="7" fill="#5a5c62"/><rect x="599.5" y="805.5" width="33" height="9" rx="4.5" fill="#36383e"/>
<rect x="735" y="803" width="38" height="14" rx="7" fill="#5a5c62"/><rect x="737.5" y="805.5" width="33" height="9" rx="4.5" fill="#36383e"/>
<circle cx="687" cy="828" r="22" fill="#ededee" stroke="#c9c9cc" stroke-width="1.2"/>
<circle cx="687" cy="828" r="17.5" fill="#4a4a4e"/>
<circle cx="687" cy="828" r="14.5" fill="#8a735c"/>
</g>

<!-- bottom text -->
<text x="850" y="960" font-size="22" fill="#222" font-family="'Liberation Sans','Noto Sans CJK SC',sans-serif" textLength="128" lengthAdjust="spacingAndGlyphs">Berat：  288g</text>
<g fill="#333" font-size="16.5" font-family="'Noto Sans CJK SC','Liberation Sans',sans-serif">
<text x="262" y="981" textLength="495" lengthAdjust="spacingAndGlyphs">Harap dicatat bahwa parameter produk diukur secara manual,</text>
<text x="288" y="1005" textLength="452" lengthAdjust="spacingAndGlyphs">dan sedikit kesalahan adalah normal, jadi maafkan saya!</text>
</g>
</svg>
<div class="rb" style="left:346px;top:272px;width:102px;height:102px;"></div>
<div class="rb" style="left:522px;top:272px;width:102px;height:102px;"></div>
</div></body></html>
